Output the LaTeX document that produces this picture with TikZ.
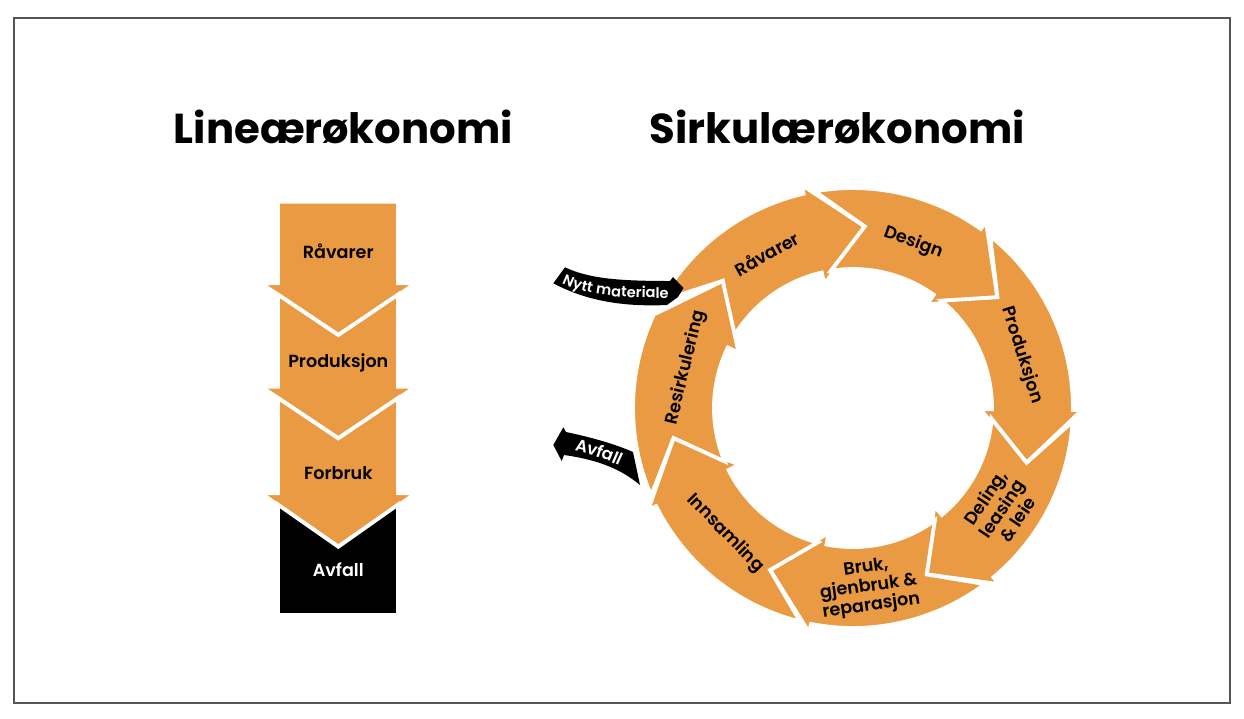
\documentclass[tikz,border=0pt]{standalone}
\usepackage{fontspec}
\setmainfont{Poppins}
\newfontfamily\lblfont{Poppins SemiBold}
\usetikzlibrary{calc, decorations.text}

\definecolor{ringorange}{HTML}{E99A42}
\definecolor{framegray}{HTML}{555555}

% ring arrow: tail angle, head base of the previous arrow, head base, tip, outer barb radius
\newcommand{\ringarrow}[5]{%
  \pgfmathsetmacro{\tailout}{#1+0.82*(#2-#1)}%
  \pgfmathsetmacro{\tailin}{#1+0.77*(#2-#1)}%
  \filldraw[ringseg] (\tailout:220) arc[start angle=\tailout, end angle=#3, radius=220]
    -- (#3:#5) -- (#4:182) -- (#3:127) -- (#3:139)
    arc[start angle=#3, end angle=\tailin, radius=139] -- (#1:182) -- cycle;
}

\begin{document}
\begin{tikzpicture}[x=0.02cm, y=0.02cm,
  frame/.style     = {draw=framegray, line width=0.9pt},
  ringseg/.style   = {fill=ringorange, draw=white, line width=2.2pt},
  chev/.style      = {fill=ringorange, draw=white, line width=2.2pt},
  chevend/.style   = {fill=black, draw=white, line width=2.2pt},
  titletext/.style = {font=\bfseries\fontsize{23.8}{28}\selectfont, anchor=base,
                      inner sep=0pt},
  lbl/.style       = {font=\lblfont\fontsize{10}{11}\selectfont, align=center,
                      inner sep=0pt},
  flowarrow/.style = {fill=black},
]
\useasboundingbox (0,0) rectangle (1244,-718);
\draw[frame] (14,-18) rectangle (1230,-703);

%% -- titles ------------------------------------------------------------------
\node[titletext] (tlinear) at (343.3,-143.3) {Lineærøkonomi};
\node[titletext] (tcircular) at (837.2,-143.3) {Sirkulærøkonomi};

%% -- linear economy ----------------------------------------------------------
\filldraw[chev] (278,-201.7) -- (398,-201.7) -- (398,-283.3) -- (415.7,-283.3)
  -- (338.3,-335) -- (261,-283.3) -- (278,-283.3) -- cycle;
\filldraw[chev] (278,-294.6) -- (338.3,-335) -- (398,-294.6) -- (398,-386.7)
  -- (415.7,-386.7) -- (338.3,-438.3) -- (261,-386.7) -- (278,-386.7) -- cycle;
\filldraw[chev] (278,-398) -- (338.3,-438.3) -- (398,-398) -- (398,-493.3)
  -- (415.7,-493.3) -- (338.3,-546.7) -- (261,-493.3) -- (278,-493.3) -- cycle;
\filldraw[chevend] (278,-504.6) -- (338.3,-546.7) -- (398,-504.6) -- (398,-615)
  -- (278,-615) -- cycle;

\node[lbl] (lraw)  at (338.3,-251.7) {Råvarer};
\node[lbl] (lprod) at (338.3,-363)   {Produksjon};
\node[lbl] (lcons) at (338.3,-473)   {Forbruk};
\node[lbl, text=white] (lwaste) at (338.3,-570) {Avfall};

%% -- circular economy --------------------------------------------------------
\begin{scope}[shift={(853,-408)}]
  \ringarrow{135.7}{154.2}{103}{86.3}{229}
  \ringarrow{86.3}{103}{54.5}{37.5}{229}
  \ringarrow{37.5}{54.5}{-0.5}{-17.5}{229}
  \ringarrow{-17.5}{-0.5}{-50.3}{-66.1}{229}
  \ringarrow{-66.1}{-50.3}{-101}{-117.1}{229}
  \ringarrow{-117.1}{-101}{-153.5}{-170.5}{229}
  \ringarrow{-170.5}{-153.5}{-205.8}{-224.3}{218}

  \node[lbl, rotate=29.2]  (craw)     at (119.2:177) {Råvarer};
  \node[lbl, rotate=-20]   (cdesign)  at (70:176)    {Design};
  \node[lbl, rotate=-72.6] (cprod)    at (17.4:177)  {Produksjon};
  \node[lbl, rotate=56]    (cshare)   at (-34:179)   {Deling,\\leasing\\\& leie};
  \node[lbl, rotate=8]     (cuse)     at (-85:180)   {Bruk,\\gjenbruk \&\\reparasjon};
  \node[lbl, rotate=-45.6] (ccollect) at (-135.6:179) {Innsamling};
  \node[lbl, rotate=76.4]  (crecycle) at (166.4:172) {Resirkulering};
\end{scope}

%% -- inflow and outflow ------------------------------------------------------
\fill[flowarrow] (565,-267.3) .. controls (588,-278) and (615,-281) .. (670,-281)
  -- (673,-277) -- (683.5,-288) -- (678,-297) -- (667,-305)
  .. controls (620,-307) and (585,-300) .. (553.3,-283.3) -- cycle;
\path[decorate, decoration={text along path, text align=center, raise=-2.8pt,
  text color=white, text={|\lblfont\fontsize{8.3}{9}\selectfont|Nytt materiale}}]
  (559,-276) .. controls (583,-290) and (615,-294) .. (674,-293);

\fill[flowarrow] (553.3,-445) -- (563.3,-427.3) -- (566,-432)
  .. controls (590,-437) and (615,-444) .. (633,-452) -- (640,-485)
  .. controls (622,-470) and (600,-460) .. (564,-455) -- (561.7,-461) -- cycle;
\path[decorate, decoration={text along path, text align=center, raise=-3.2pt,
  text color=white, text={|\lblfont\fontsize{9.5}{10}\selectfont|Avfall}}]
  (562,-443) .. controls (590,-447) and (612,-455) .. (634,-467);

\end{tikzpicture}
\end{document}
